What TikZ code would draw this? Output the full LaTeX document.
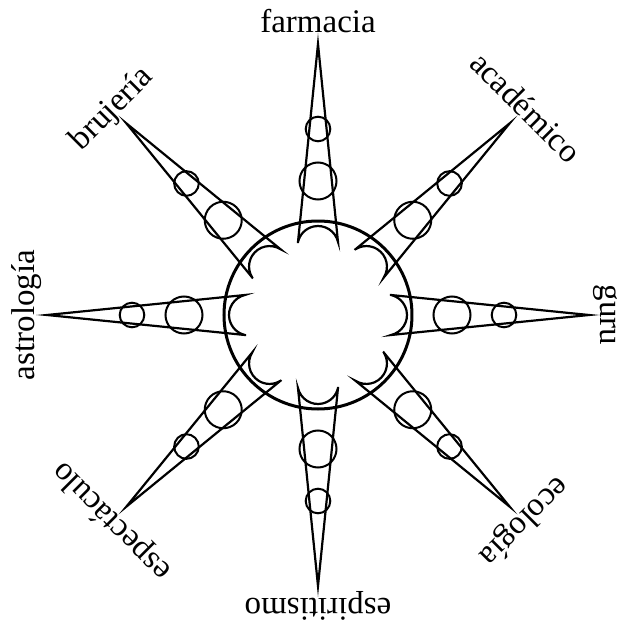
\documentclass[tikz,border=0pt]{standalone}
\usepackage{fontspec}
\setmainfont{Liberation Serif}
\begin{document}
\begin{tikzpicture}[x=1pt,y=1pt,
  lbl/.style={font=\fontsize{33}{40}\selectfont, inner sep=0pt, anchor=base},
  spike/.style={line width=2.2pt, line join=miter, miter limit=20},
  bead/.style={line width=2pt},
  hub/.style={draw, circle, line width=3pt, minimum size=188pt, inner sep=0pt}]
\useasboundingbox (-318,-310) rectangle (303,315);
\foreach \a/\t/\n in {90/farmacia/l1, 45/académico/l2, 0/guru/l3, -45/ecología/l4,
    -90/espiritismo/l5, -135/espectáculo/l6, 180/astrología/l7, 135/brujería/l8}{
  \begin{scope}[rotate=\a-90]
    \draw[spike] (-20,73) -- (0,271) -- (20,73)
      arc[start angle=12.7, end angle=167.3, radius=20.5] -- cycle;
    \draw[bead] (0,134) circle (18.5);
    \draw[bead] (0,186) circle (12.3);
  \end{scope}
  \node[lbl, rotate=\a-90] (\n) at (\a:283) {\t};
}
\node[hub] (c) at (0,0) {};
\end{tikzpicture}
\end{document}
